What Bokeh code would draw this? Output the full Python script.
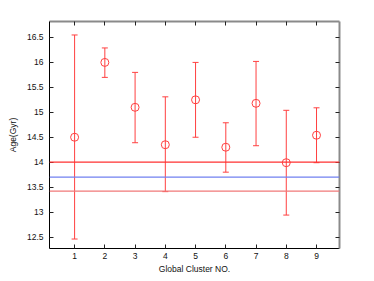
from bokeh.plotting import figure
from bokeh.models import (Range1d, LinearAxis, FixedTicker, Span,
                          ColumnDataSource, CustomJSTickFormatter)
from bokeh.embed import file_html
from bokeh.resources import INLINE

clusters = [1, 2, 3, 4, 5, 6, 7, 8, 9]
ages = [14.50, 16.00, 15.10, 14.35, 15.25, 14.30, 15.18, 13.99, 14.54]
age_upper = [16.55, 16.29, 15.80, 15.31, 16.00, 14.79, 16.02, 15.04, 15.09]
age_lower = [12.46, 15.70, 14.39, 13.41, 14.50, 13.80, 14.33, 12.94, 13.99]
ref_red_upper = 14.00
ref_blue = 13.70
ref_red_lower = 13.42
x_ticks = [1, 2, 3, 4, 5, 6, 7, 8, 9]
y_ticks = [12.5, 13, 13.5, 14, 14.5, 15, 15.5, 16, 16.5]

FONT = "Liberation Sans"
RED = "#ff4040"

src = ColumnDataSource(dict(x=clusters, y=ages, upper=age_upper, lower=age_lower))

p = figure(width=366, height=276, output_backend="svg", toolbar_location=None,
           x_range=Range1d(0.17, 9.76), y_range=Range1d(12.27, 16.82),
           min_border_left=49, min_border_right=27, min_border_top=21, min_border_bottom=27,
           x_axis_location=None, y_axis_location=None)
p.outline_line_color = None
p.xgrid.visible = False
p.ygrid.visible = False
p.background_fill_color = "white"
p.border_fill_color = "white"

def style(ax, ticks, labels, color, width):
    ax.ticker = FixedTicker(ticks=ticks)
    ax.major_tick_in = 4
    ax.major_tick_out = 0
    ax.minor_tick_line_color = None
    ax.axis_line_color = color
    ax.axis_line_width = width
    ax.major_tick_line_color = "#222222"
    if labels:
        ax.major_label_text_font = FONT
        ax.major_label_text_font_size = "8.5px"
        ax.major_label_text_color = "#111111"
        ax.axis_label_text_font = FONT
        ax.axis_label_text_font_size = "8.5px"
        ax.axis_label_text_font_style = "normal"
        ax.axis_label_text_color = "#111111"
    else:
        ax.formatter = CustomJSTickFormatter(code="return ''")
        ax.major_label_standoff = 0

left = LinearAxis(axis_label="Age(Gyr)")
style(left, y_ticks, True, "black", 1)
left.major_label_standoff = 6
left.axis_label_standoff = 6
p.add_layout(left, "left")

bottom = LinearAxis(axis_label="Global Cluster NO.")
style(bottom, x_ticks, True, "black", 1)
bottom.major_label_standoff = 4
bottom.axis_label_standoff = 2
p.add_layout(bottom, "below")

top = LinearAxis()
style(top, x_ticks, False, "#8a8a8a", 2)
p.add_layout(top, "above")

right = LinearAxis()
style(right, y_ticks, False, "#8a8a8a", 2)
p.add_layout(right, "right")

p.add_layout(Span(location=ref_red_upper, dimension="width", line_color="#ff3030", line_width=1.2))
p.add_layout(Span(location=ref_blue, dimension="width", line_color="#7080f0", line_width=1.2))
p.add_layout(Span(location=ref_red_lower, dimension="width", line_color="#f07878", line_width=1.2))

# error bars
p.segment(x0="x", y0="lower", x1="x", y1="upper", source=src, line_color=RED, line_width=1)
p.scatter("x", "upper", source=src, marker="dash", size=6, line_color=RED, line_width=1)
p.scatter("x", "lower", source=src, marker="dash", size=6, line_color=RED, line_width=1)

p.scatter("x", "y", source=src, marker="circle", size=8, fill_color=None,
          line_color=RED, line_width=1)

open("out.html", "w").write(file_html(p, INLINE))
